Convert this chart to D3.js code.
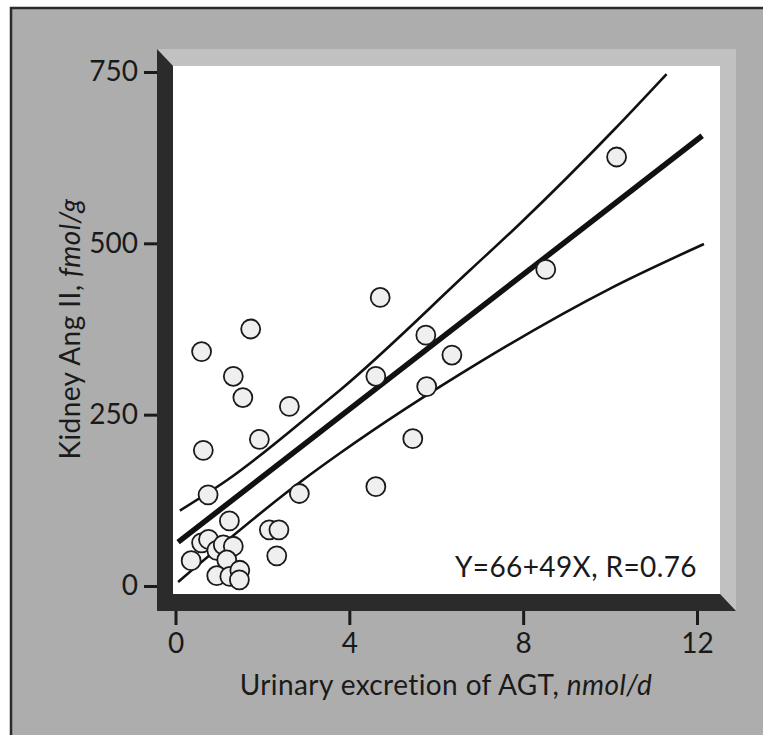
<!DOCTYPE html>
<html>
<head>
<meta charset="utf-8">
<script src="https://cdn.jsdelivr.net/npm/d3@7"></script>
<style>
  body { margin: 0; background: #fff; }
  svg { display: block; font-family: Lato, "Open Sans", sans-serif; }
</style>
</head>
<body>
<script>
// points
var agt   = [1.73, 0.60, 1.33, 1.55, 2.62, 1.93, 0.64, 0.75, 2.85, 1.24, 2.16, 2.38, 2.33,
             0.36, 0.60, 0.76, 0.95, 1.10, 1.33, 1.18, 0.95, 1.25, 1.48, 1.47,
             4.71, 5.76, 6.36, 4.61, 5.78, 5.46, 4.61, 10.15, 8.52];
var angII = [375, 342, 306, 275, 262, 214, 198, 133, 135, 95, 82, 82, 44,
             37, 63, 68, 52, 60, 58, 38, 15, 14, 23, 9,
             421, 366, 337, 306, 291, 215, 145, 626, 462];

// regression line and confidence curves
var fitX = [0.06, 12.12];
var fitY = [64, 657];
var upperX = [0.1, 1.2, 3.33, 3.79, 6.78, 7.93, 10.08, 11.3];
var upperY = [110, 155, 262, 286, 461, 529, 665, 747];
var lowerX = [0.06, 2.94, 3.79, 7.01, 10.0, 12.16];
var lowerY = [6, 155, 194, 327, 434, 499];

var xTicks = [0, 4, 8, 12];
var yTicks = [0, 250, 500, 750];
var equation = "Y=66+49X, R=0.76";

var W = 763, H = 735;
var svg = d3.select("body").append("svg")
  .attr("width", W)
  .attr("height", H);

// outer panel
svg.append("rect")
  .attr("x", 11).attr("y", 8)
  .attr("width", W).attr("height", H)
  .attr("fill", "#adadad")
  .attr("stroke", "#2b2b2b")
  .attr("stroke-width", 2.5);

// bevelled plot frame
var L = 157, T = 49, R = 736, B = 611, d = 16, dy = 17;
svg.append("polygon")
  .attr("points", [[L, T], [R, T], [R, B], [R - d, B - dy], [R - d, T + dy], [L + d, T + dy]].join(" "))
  .attr("fill", "#c1c1c1");
svg.append("polygon")
  .attr("points", [[L, T], [L + d, T + dy], [L + d, B - dy], [R - d, B - dy], [R, B], [L, B]].join(" "))
  .attr("fill", "#2b2b2b");
svg.append("rect")
  .attr("x", L + d).attr("y", T + dy)
  .attr("width", R - L - 2 * d).attr("height", B - T - 2 * dy)
  .attr("fill", "#fff");

var x = d3.scaleLinear().domain([0, 12]).range([175.5, 697]);
var y = d3.scaleLinear().domain([0, 750]).range([586, 72]);

// axes
var yAxis = svg.append("g")
  .attr("transform", "translate(" + L + ",0)")
  .call(d3.axisLeft(y).tickValues(yTicks).tickSize(13).tickPadding(6));
var xAxis = svg.append("g")
  .attr("transform", "translate(0," + B + ")")
  .call(d3.axisBottom(x).tickValues(xTicks).tickSize(14).tickPadding(8));
[xAxis, yAxis].forEach(function(a){
  a.select(".domain").remove();
  a.selectAll(".tick line").attr("stroke", "#1a1a1a").attr("stroke-width", 3);
  a.selectAll(".tick text")
    .attr("fill", "#1a1a1a")
    .style("font-size", "28px")
    .style("font-family", "Lato, sans-serif");
});

// lines
var line = d3.line()
  .x(function(p){ return x(p[0]); })
  .y(function(p){ return y(p[1]); })
  .curve(d3.curveMonotoneX);

var plot = svg.append("g");
plot.append("path")
  .attr("d", line(d3.zip(upperX, upperY)))
  .attr("fill", "none").attr("stroke", "#111").attr("stroke-width", 2.6);
plot.append("path")
  .attr("d", line(d3.zip(lowerX, lowerY)))
  .attr("fill", "none").attr("stroke", "#111").attr("stroke-width", 2.6);
plot.append("path")
  .attr("d", line(d3.zip(fitX, fitY)))
  .attr("fill", "none").attr("stroke", "#111").attr("stroke-width", 5.5);

plot.selectAll("circle")
  .data(d3.zip(agt, angII))
  .enter()
  .append("circle")
  .attr("cx", function(p){ return x(p[0]); })
  .attr("cy", function(p){ return y(p[1]); })
  .attr("r", 9.5)
  .attr("fill", "#efefef")
  .attr("stroke", "#1a1a1a")
  .attr("stroke-width", 1.8);

// equation
svg.append("text")
  .attr("x", 697).attr("y", 577)
  .attr("text-anchor", "end")
  .style("font-size", "28px")
  .style("letter-spacing", "0.4px")
  .attr("fill", "#1a1a1a")
  .text(equation);

// axis titles
var xt = svg.append("text")
  .attr("x", 446).attr("y", 695)
  .attr("text-anchor", "middle")
  .style("font-size", "28px")
  .style("letter-spacing", "0.4px")
  .attr("fill", "#1a1a1a");
xt.append("tspan").text("Urinary excretion of AGT, ");
xt.append("tspan").attr("font-style", "italic").text("nmol/d");

var yt = svg.append("text")
  .attr("transform", "translate(80,329) rotate(-90)")
  .attr("text-anchor", "middle")
  .style("font-size", "28px")
  .style("letter-spacing", "0.4px")
  .attr("fill", "#1a1a1a");
yt.append("tspan").text("Kidney Ang II, ");
yt.append("tspan").attr("font-style", "italic").text("fmol/g");
</script>
</body>
</html>
